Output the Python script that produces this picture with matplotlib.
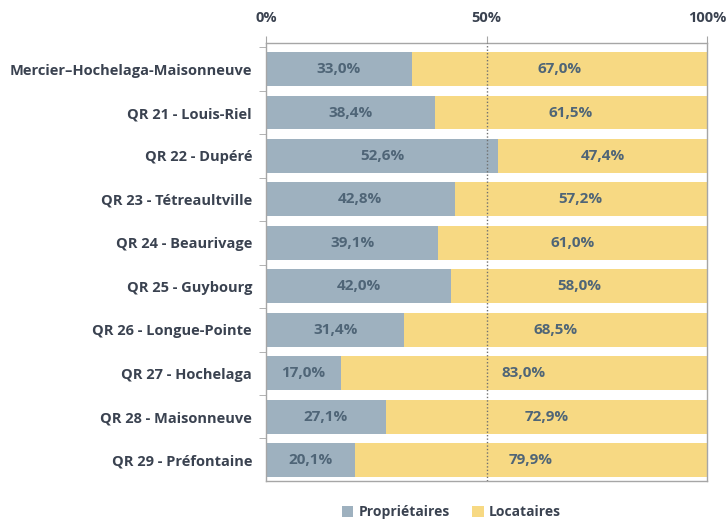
import numpy as np
import matplotlib.pyplot as plt
from matplotlib.ticker import FixedLocator

categories = ['Mercier\u2013Hochelaga-Maisonneuve', 'QR 21 - Louis-Riel', 'QR 22 - Dupéré',
              'QR 23 - Tétreaultville', 'QR 24 - Beaurivage', 'QR 25 - Guybourg',
              'QR 26 - Longue-Pointe', 'QR 27 - Hochelaga', 'QR 28 - Maisonneuve',
              'QR 29 - Préfontaine']
proprietaires = [33.0, 38.4, 52.6, 42.8, 39.1, 42.0, 31.4, 17.0, 27.1, 20.1]
locataires = [67.0, 61.5, 47.4, 57.2, 61.0, 58.0, 68.5, 83.0, 72.9, 79.9]

c_prop = '#9eb1bf'
c_loc = '#f7d983'
txt = '#3a4250'
lab = '#4f6577'
spine = '#a6a6a6'

plt.rcParams['font.family'] = ['Open Sans', 'DejaVu Sans']
plt.rcParams['font.weight'] = 'bold'
fs = 10.5

fig = plt.figure(figsize=(7.28, 5.22), dpi=100)
ax = fig.add_axes([266/728, 1 - 481/522, (707-266)/728, (481-43)/522])

y = np.arange(len(categories))
ax.barh(y, proprietaires, height=0.78, color=c_prop, label='Propriétaires', zorder=2)
ax.barh(y, locataires, left=proprietaires, height=0.78, color=c_loc, label='Locataires', zorder=2)

for i in range(len(categories)):
    p, l = proprietaires[i], locataires[i]
    ax.text(p / 2, i, f'{p:.1f}%'.replace('.', ','), ha='center', va='center',
            fontsize=11, fontweight='bold', color=lab, zorder=4)
    ax.text(p + l / 2, i, f'{l:.1f}%'.replace('.', ','), ha='center', va='center',
            fontsize=11, fontweight='bold', color=lab, zorder=4)

ax.axvline(50, color='#707070', lw=1, ls=(0, (1, 1.5)), zorder=3)

ax.set_xlim(0, 100)
ax.set_ylim(9.48, -0.6)
ax.xaxis.tick_top()
ax.set_xticks([0, 50, 100])
ax.set_xticklabels(['0%', '50%', '100%'], fontsize=fs, fontweight='bold', color=txt)
ax.tick_params(axis='x', length=5, color=spine, pad=8)

ax.set_yticks(y)
ax.set_yticklabels(categories, fontsize=fs, fontweight='bold', color=txt)
ax.tick_params(axis='y', which='major', length=0, pad=10)
ax.yaxis.set_minor_locator(FixedLocator(np.arange(-0.5, 10, 1)))
ax.tick_params(axis='y', which='minor', length=5, color=spine)

for s in ax.spines.values():
    s.set_color(spine)
    s.set_linewidth(1)

fig.legend(loc='center', bbox_to_anchor=(451/728, 1 - 512/522), ncol=2, frameon=False,
           handlelength=0.85, handleheight=0.85, handletextpad=0.35, columnspacing=1.6,
           prop={'size': 10, 'weight': 'bold'}, labelcolor=txt)

fig.savefig('out.png', dpi=100)
